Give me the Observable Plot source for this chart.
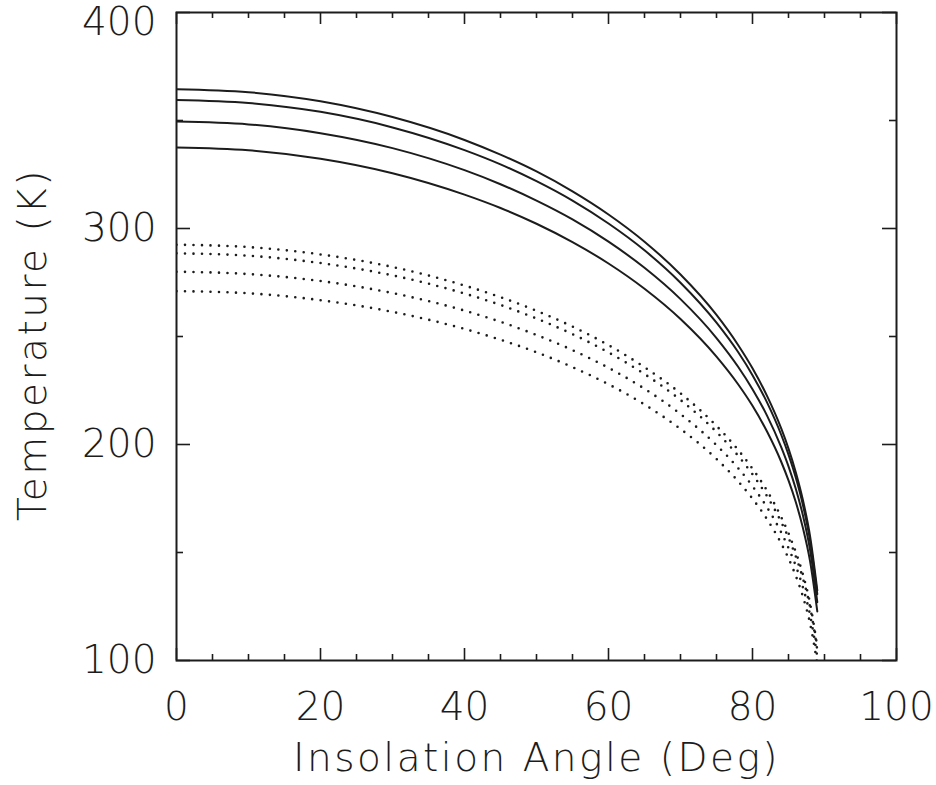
<!DOCTYPE html>
<html><head><meta charset="utf-8">
<script src="https://cdn.jsdelivr.net/npm/d3@7"></script>
<script src="https://cdn.jsdelivr.net/npm/@observablehq/plot@0.6"></script>
<style>html,body{margin:0;padding:0;background:#fff}</style>
</head><body><div id="chart"></div>
<script>
// Insolation angle samples (deg)
const angles = [0,10,20,30,40,45,50,55,60,65,70,75,78,80,82,84,85,86,87,88,89];
// Solid curves (K)
const solidA = [364.5,363.1,358.9,351.6,341.0,334.2,326.4,317.2,306.5,293.9,278.7,260.0,246.1,235.3,222.6,207.3,198.1,187.3,174.3,157.5,132.5];
const solidB = [359.5,358.1,354.0,346.8,336.3,329.7,321.9,312.9,302.3,289.9,274.9,256.4,242.8,232.1,219.6,204.4,195.3,184.8,172.0,155.4,130.7];
const solidC = [349.5,348.2,344.1,337.2,327.0,320.5,312.9,304.2,293.9,281.8,267.3,249.3,236.0,225.6,213.5,198.7,189.9,179.6,167.2,151.1,127.0];
const solidD = [337.5,336.2,332.3,325.6,315.7,309.5,302.2,293.7,283.8,272.1,258.1,240.7,227.9,217.9,206.1,191.9,183.4,173.5,161.4,145.9,122.7];
// Dotted curves (K)
const dotE = [292.5,291.4,288.0,282.2,273.6,268.2,261.9,254.6,246.0,235.8,223.7,208.6,197.5,188.8,178.7,166.3,158.9,150.3,139.9,126.4,106.3];
const dotF = [288.5,287.4,284.0,278.3,269.9,264.6,258.3,251.1,242.6,232.6,220.6,205.8,194.8,186.2,176.2,164.0,156.8,148.3,138.0,124.7,104.9];
const dotG = [280.0,278.9,275.7,270.1,262.0,256.8,250.7,243.7,235.5,225.8,214.1,199.7,189.1,180.7,171.0,159.2,152.1,143.9,133.9,121.0,101.8];
const dotH = [271.0,270.0,266.8,261.4,253.5,248.5,242.7,235.8,227.9,218.5,207.2,193.3,183.0,174.9,165.5,154.1,147.3,139.3,129.6,117.1,98.5];

const xMajor = [0,20,40,60,80,100];
const xMinor = [5,10,15,25,30,35,45,50,55,65,70,75,85,90,95];
const yMajor = [100,200,300,400];
const yMinor = [150,250,350];
const xLabel = "Insolation Angle (Deg)";
const yLabel = "Temperature (K)";

function toRows(list, kind) {
  const rows = [];
  list.forEach((vals, i) => vals.forEach((t, j) => rows.push({angle: angles[j], temp: t, series: kind + i})));
  return rows;
}
const solidRows = toRows([solidA, solidB, solidC, solidD], "s");
const dotRows = toRows([dotE, dotF, dotG, dotH], "d");

const W = 936, H = 785, mL = 176, mR = 40, mT = 12, mB = 125;
const fw = W - mL - mR, fh = H - mT - mB;
const ink = "#1c1c1c";

const svg = Plot.plot({
  width: W, height: H,
  marginLeft: mL, marginRight: mR, marginTop: mT, marginBottom: mB,
  x: {domain: [0, 100]},
  y: {domain: [100, 400]},
  style: {fontFamily: "'DejaVu Sans', sans-serif", fontWeight: 200, color: ink, background: "#fff"},
  marks: [
    Plot.line(solidRows, {x: "angle", y: "temp", z: "series", stroke: ink, strokeWidth: 2, curve: "monotone-x", clip: true}),
    Plot.line(dotRows, {x: "angle", y: "temp", z: "series", stroke: ink, strokeWidth: 2.6, strokeDasharray: "0,8.5", strokeLinecap: "round", curve: "monotone-x", clip: true}),
    Plot.tickX(xMinor, {insetTop: fh - 6, stroke: ink, strokeWidth: 1.6}),
    Plot.tickX(xMajor, {insetTop: fh - 12, stroke: ink, strokeWidth: 1.6}),
    Plot.tickX(xMinor, {insetBottom: fh - 6, stroke: ink, strokeWidth: 1.6}),
    Plot.tickX(xMajor, {insetBottom: fh - 12, stroke: ink, strokeWidth: 1.6}),
    Plot.tickY(yMinor, {insetRight: fw - 7, stroke: ink, strokeWidth: 1.6}),
    Plot.tickY(yMajor, {insetRight: fw - 14, stroke: ink, strokeWidth: 1.6}),
    Plot.tickY(yMinor, {insetLeft: fw - 7, stroke: ink, strokeWidth: 1.6}),
    Plot.tickY(yMajor, {insetLeft: fw - 14, stroke: ink, strokeWidth: 1.6}),
    Plot.frame({stroke: ink, strokeWidth: 2}),
    Plot.axisX({ticks: xMajor, tickSize: 0, tickPadding: 32, fontSize: 39, label: null, tickFormat: d => String(d)}),
    Plot.axisY({ticks: yMajor.slice(0, -1), tickSize: 0, tickPadding: 20, fontSize: 39, label: null, tickFormat: d => String(d)}),
    Plot.axisY({ticks: yMajor.slice(-1), tickSize: 0, tickPadding: 20, dy: 10, fontSize: 39, label: null, tickFormat: d => String(d)}),
    Plot.text([xLabel], {text: d => d, frameAnchor: "bottom", dy: 98, fontSize: 39, lineAnchor: "middle", textAnchor: "middle", fill: ink, className: "axlabel"}),
    Plot.text([yLabel], {text: d => d, frameAnchor: "left", dx: -143, dy: 8, rotate: -90, fontSize: 39, lineAnchor: "middle", textAnchor: "middle", fill: ink, className: "axlabel"})
  ]
});
d3.select(svg).selectAll(".axlabel text").style("letter-spacing", "2.5px");
document.getElementById("chart").appendChild(svg);
</script>
</body></html>
